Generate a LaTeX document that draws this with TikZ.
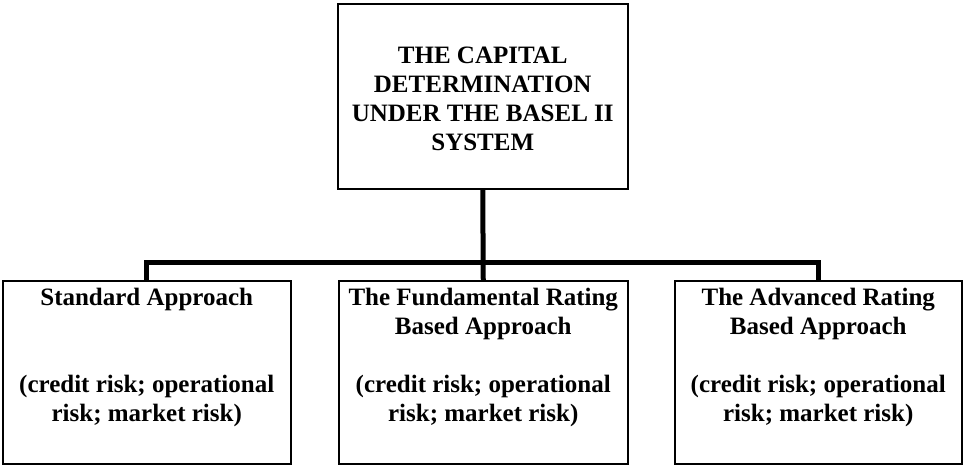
\documentclass[tikz,border=0pt]{standalone}
\usepackage{fontspec}
\setmainfont{Liberation Serif}
\begin{document}
\begin{tikzpicture}[x=1pt,y=-1pt]
\tikzset{
  box/.style={draw, line width=1.5pt, inner sep=0pt, anchor=north west},
  conn/.style={line width=5pt},
  txt/.style={font=\bfseries\fontsize{25}{29}\selectfont}
}
\useasboundingbox (0,0) rectangle (963,464);
\node[box, txt] (top) at (337,3)
  {\parbox[t][185pt][t]{290pt}{\centering\rule{0pt}{60pt}THE CAPITAL\\DETERMINATION\\UNDER THE BASEL II\\SYSTEM}};
\node[box, txt] (std) at (2,280)
  {\parbox[t][183pt][t]{288pt}{\centering\rule{0pt}{25pt}Standard Approach\\[58pt](credit risk; operational\\risk; market risk)}};
\node[box, txt] (fund) at (338,280)
  {\parbox[t][183pt][t]{289pt}{\centering\rule{0pt}{25pt}The Fundamental Rating\\Based Approach\\[29pt](credit risk; operational\\risk; market risk)}};
\node[box, txt] (adv) at (674,280)
  {\parbox[t][183pt][t]{287pt}{\centering\rule{0pt}{25pt}The Advanced Rating\\Based Approach\\[29pt](credit risk; operational\\risk; market risk)}};
\coordinate (bar) at (482,262);
\draw[conn] (top.south) -- (fund.north);
\draw[conn] (std.north) -- (std.north |- bar) -- (adv.north |- bar) -- (adv.north);
\end{tikzpicture}
\end{document}
